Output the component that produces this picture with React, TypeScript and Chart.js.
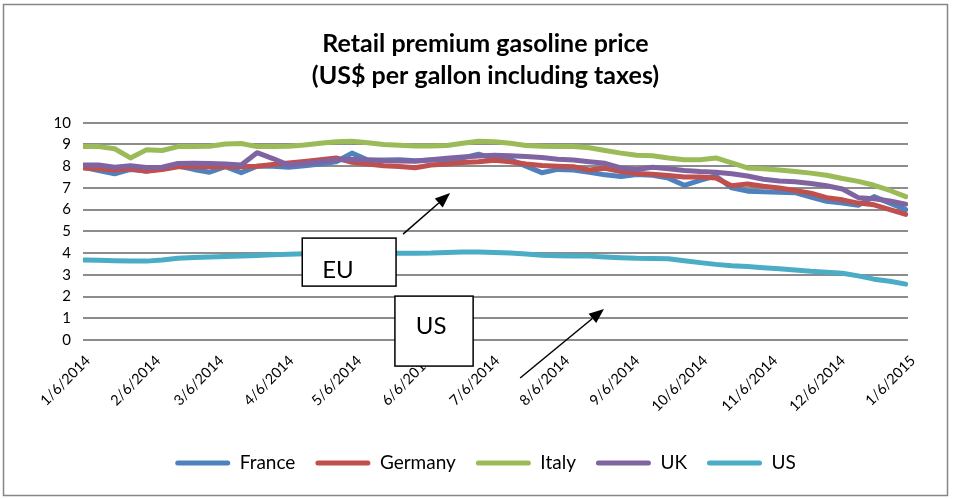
import React, { useEffect, useRef } from "react";
import { Chart, registerables } from "chart.js";

Chart.register(...registerables);

const FONT = "Lato, 'Open Sans', 'DejaVu Sans', sans-serif";

// ---------- data ----------
const titleLines = ["Retail premium gasoline price", "(US$ per gallon including taxes)"];

// days since 1/6/2014 of each weekly observation
const weekDays = [
  0, 7, 14, 21, 28, 35, 42, 49, 56, 63, 70, 77, 84, 91, 98, 105, 112, 119, 126, 133,
  140, 147, 154, 161, 168, 175, 182, 189, 196, 203, 210, 217, 224, 231, 238, 245, 252,
  259, 266, 273, 280, 287, 294, 301, 308, 315, 322, 329, 336, 343, 350, 357, 364,
];

// days since 1/6/2014 of each month tick, and the tick labels
const monthTickDays = [0, 31, 59, 90, 120, 151, 181, 212, 243, 273, 304, 334, 365];
const monthLabels = [
  "1/6/2014", "2/6/2014", "3/6/2014", "4/6/2014", "5/6/2014", "6/6/2014", "7/6/2014",
  "8/6/2014", "9/6/2014", "10/6/2014", "11/6/2014", "12/6/2014", "1/6/2015",
];

const seriesNames = ["France", "Germany", "Italy", "UK", "US"];

const france = [
  7.95, 7.8, 7.65, 7.85, 7.78, 7.88, 8.0, 7.85, 7.72, 7.98, 7.7, 8.0, 8.0, 7.95, 8.02,
  8.1, 8.2, 8.6, 8.28, 8.28, 8.3, 8.25, 8.28, 8.3, 8.38, 8.55, 8.35, 8.3, 8.0, 7.7,
  7.85, 7.82, 7.72, 7.6, 7.52, 7.62, 7.58, 7.45, 7.12, 7.35, 7.55, 7.0, 6.85, 6.82,
  6.8, 6.78, 6.58, 6.38, 6.3, 6.2, 6.6, 6.3, 6.0,
];
const germany = [
  7.92, 7.88, 7.82, 7.88, 7.77, 7.85, 7.97, 7.97, 7.97, 7.97, 7.97, 8.0, 8.08, 8.15,
  8.22, 8.3, 8.38, 8.18, 8.1, 8.02, 7.98, 7.93, 8.05, 8.1, 8.17, 8.2, 8.27, 8.2, 8.1,
  8.03, 8.0, 7.97, 7.82, 7.9, 7.75, 7.66, 7.63, 7.57, 7.5, 7.5, 7.45, 7.1, 7.18, 7.08,
  7.0, 6.88, 6.76, 6.55, 6.45, 6.3, 6.22, 6.0, 5.78,
];
const italy = [
  8.9, 8.9, 8.8, 8.38, 8.75, 8.72, 8.9, 8.9, 8.92, 9.02, 9.04, 8.9, 8.9, 8.92, 8.97,
  9.05, 9.12, 9.15, 9.08, 9.0, 8.96, 8.93, 8.93, 8.95, 9.05, 9.15, 9.12, 9.05, 8.95,
  8.92, 8.9, 8.9, 8.85, 8.72, 8.6, 8.5, 8.48, 8.38, 8.3, 8.3, 8.38, 8.15, 7.92, 7.88,
  7.82, 7.75, 7.68, 7.58, 7.43, 7.3, 7.12, 6.88, 6.6,
];
const uk = [
  8.05, 8.05, 7.95, 8.02, 7.94, 7.95, 8.12, 8.13, 8.12, 8.1, 8.05, 8.62, 8.35, 8.05,
  8.12, 8.2, 8.28, 8.32, 8.28, 8.25, 8.24, 8.23, 8.3, 8.36, 8.42, 8.47, 8.5, 8.48, 8.45,
  8.4, 8.32, 8.28, 8.2, 8.13, 7.92, 7.85, 7.95, 7.88, 7.8, 7.75, 7.72, 7.65, 7.55, 7.4,
  7.32, 7.28, 7.2, 7.1, 6.95, 6.55, 6.5, 6.4, 6.25,
];
const us = [
  3.68, 3.67, 3.65, 3.63, 3.63, 3.68, 3.76, 3.8, 3.82, 3.84, 3.86, 3.89, 3.92, 3.95,
  3.97, 3.98, 3.99, 4.0, 4.0, 4.0, 3.99, 3.99, 4.0, 4.03, 4.05, 4.05, 4.03, 4.0, 3.96,
  3.9, 3.88, 3.87, 3.86, 3.82, 3.79, 3.76, 3.75, 3.74, 3.65, 3.56, 3.48, 3.42, 3.38,
  3.33, 3.28, 3.22, 3.16, 3.12, 3.07, 2.95, 2.8, 2.7, 2.57,
];
const seriesValues = [france, germany, italy, uk, us];

// callouts, in data units (x: days since 1/6/2014, y: US$)
const calloutLabels = ["EU", "US"];
const calloutBoxes = [
  { x0: 97, x1: 138.5, y0: 4.69, y1: 2.48, tx: 112.8, ty: 3.22 },
  { x0: 138, x1: 172.6, y0: 2.02, y1: -1.2, tx: 154, ty: 0.64 },
];
const calloutArrows = [
  { x0: 141.6, y0: 4.87, x1: 162.4, y1: 6.76 },
  { x0: 193.4, y0: -1.75, x1: 230.5, y1: 1.43 },
];

// ---------- styles ----------
const seriesColors = ["#4F81BD", "#C0504D", "#9BBB59", "#8064A2", "#4BACC6"];

const framePlugin = {
  id: "frame",
  beforeDraw(chart: any) {
    const ctx = chart.ctx;
    ctx.save();
    ctx.fillStyle = "#ffffff";
    ctx.fillRect(0, 0, chart.width, chart.height);
    ctx.strokeStyle = "#868686";
    ctx.lineWidth = 1.5;
    ctx.strokeRect(3.5, 4.5, 944, 491);
    ctx.restore();
  },
};

const calloutPlugin = {
  id: "callouts",
  afterDatasetsDraw(chart: any) {
    const ctx = chart.ctx;
    const xs = chart.scales.x;
    const ys = chart.scales.y;
    ctx.save();
    calloutBoxes.forEach((b, i) => {
      const l = xs.getPixelForValue(b.x0);
      const r = xs.getPixelForValue(b.x1);
      const t = ys.getPixelForValue(b.y0);
      const bt = ys.getPixelForValue(b.y1);
      ctx.fillStyle = "#ffffff";
      ctx.fillRect(l, t, r - l, bt - t);
      ctx.strokeStyle = "#000000";
      ctx.lineWidth = 1.5;
      ctx.strokeRect(l, t, r - l, bt - t);
      ctx.fillStyle = "#000000";
      ctx.font = `24px ${FONT}`;
      ctx.textAlign = "center";
      ctx.textBaseline = "middle";
      ctx.fillText(calloutLabels[i], xs.getPixelForValue(b.tx), ys.getPixelForValue(b.ty));
    });
    calloutArrows.forEach((a) => {
      const x0 = xs.getPixelForValue(a.x0);
      const y0 = ys.getPixelForValue(a.y0);
      const x1 = xs.getPixelForValue(a.x1);
      const y1 = ys.getPixelForValue(a.y1);
      const ang = Math.atan2(y1 - y0, x1 - x0);
      const len = 15;
      const half = 6;
      const bx = x1 - len * Math.cos(ang);
      const by = y1 - len * Math.sin(ang);
      ctx.strokeStyle = "#000000";
      ctx.lineWidth = 1.5;
      ctx.beginPath();
      ctx.moveTo(x0, y0);
      ctx.lineTo(bx, by);
      ctx.stroke();
      ctx.fillStyle = "#000000";
      ctx.beginPath();
      ctx.moveTo(x1, y1);
      ctx.lineTo(bx + half * Math.sin(ang), by - half * Math.cos(ang));
      ctx.lineTo(bx - half * Math.sin(ang), by + half * Math.cos(ang));
      ctx.closePath();
      ctx.fill();
    });
    ctx.restore();
  },
};

export default function App() {
  const ref = useRef<HTMLCanvasElement>(null);

  useEffect(() => {
    const canvas = ref.current;
    if (!canvas) return;
    const n = seriesNames.length;
    const chart = new Chart(canvas, {
      type: "line",
      data: {
        datasets: seriesNames.map((name, i) => ({
          label: name,
          data: seriesValues[i].map((v, j) => ({ x: weekDays[j], y: v })),
          borderColor: seriesColors[i],
          backgroundColor: seriesColors[i],
          borderWidth: 5,
          pointRadius: 0,
          pointHoverRadius: 0,
          tension: 0,
          borderJoinStyle: "round",
          borderCapStyle: "round",
          order: n - i,
          yAxisID: "y",
          xAxisID: "x",
        })),
      },
      options: {
        responsive: false,
        animation: false,
        events: [],
        layout: { padding: { left: 18, right: 0, top: 0, bottom: 16.5 } },
        plugins: {
          title: {
            display: true,
            text: titleLines,
            color: "#000000",
            font: { family: FONT, size: 25, weight: "bold", lineHeight: 1.28 },
            padding: { top: 28, bottom: 30.7 },
          },
          legend: {
            position: "bottom",
            labels: {
              boxWidth: 55,
              boxHeight: 5,
              useBorderRadius: true,
              borderRadius: 2.5,
              padding: 20,
              color: "#000000",
              font: { family: FONT, size: 19 },
              generateLabels: (c: any) =>
                Chart.defaults.plugins.legend.labels
                  .generateLabels(c)
                  .map((l: any) => ({ ...l, lineWidth: 0, strokeStyle: l.fillStyle })),
              sort: (a: any, b: any) => a.datasetIndex - b.datasetIndex,
            },
          },
          tooltip: { enabled: false },
        },
        scales: {
          x: {
            type: "linear",
            min: 0,
            max: 365,
            grid: { display: false, drawTicks: false },
            border: { display: false },
            afterBuildTicks: (s: any) => {
              s.ticks = monthTickDays.map((v) => ({ value: v }));
            },
            afterFit: (s: any) => {
              s.height = 93.5;
            },
            ticks: {
              autoSkip: false,
              maxRotation: 45,
              minRotation: 45,
              padding: 12,
              labelOffset: 5,
              color: "#000000",
              font: { family: FONT, size: 14.5 },
              callback: (v: any) => {
                const i = monthTickDays.indexOf(Number(v));
                return i >= 0 ? monthLabels[i] : "";
              },
            },
          },
          y: {
            type: "linear",
            min: 0,
            max: 10,
            afterFit: (s: any) => {
              s.width = 65;
            },
            grid: { color: "#8c8c8c", lineWidth: 2, drawTicks: false },
            border: { display: false },
            ticks: {
              stepSize: 1,
              padding: 12,
              color: "#000000",
              font: { family: FONT, size: 15 },
            },
          },
          y2: {
            type: "linear",
            position: "right",
            afterFit: (s: any) => {
              s.width = 45;
            },
            grid: { display: false, drawTicks: false },
            border: { display: false },
            ticks: { display: false },
          },
        },
      } as any,
      plugins: [framePlugin, calloutPlugin],
    });
    return () => chart.destroy();
  }, []);

  return (
    <div style={{ position: "absolute", left: 0, top: 0, width: 953, height: 499 }}>
      <canvas ref={ref} width={953} height={499} style={{ width: 953, height: 499, display: "block" }} />
    </div>
  );
}
